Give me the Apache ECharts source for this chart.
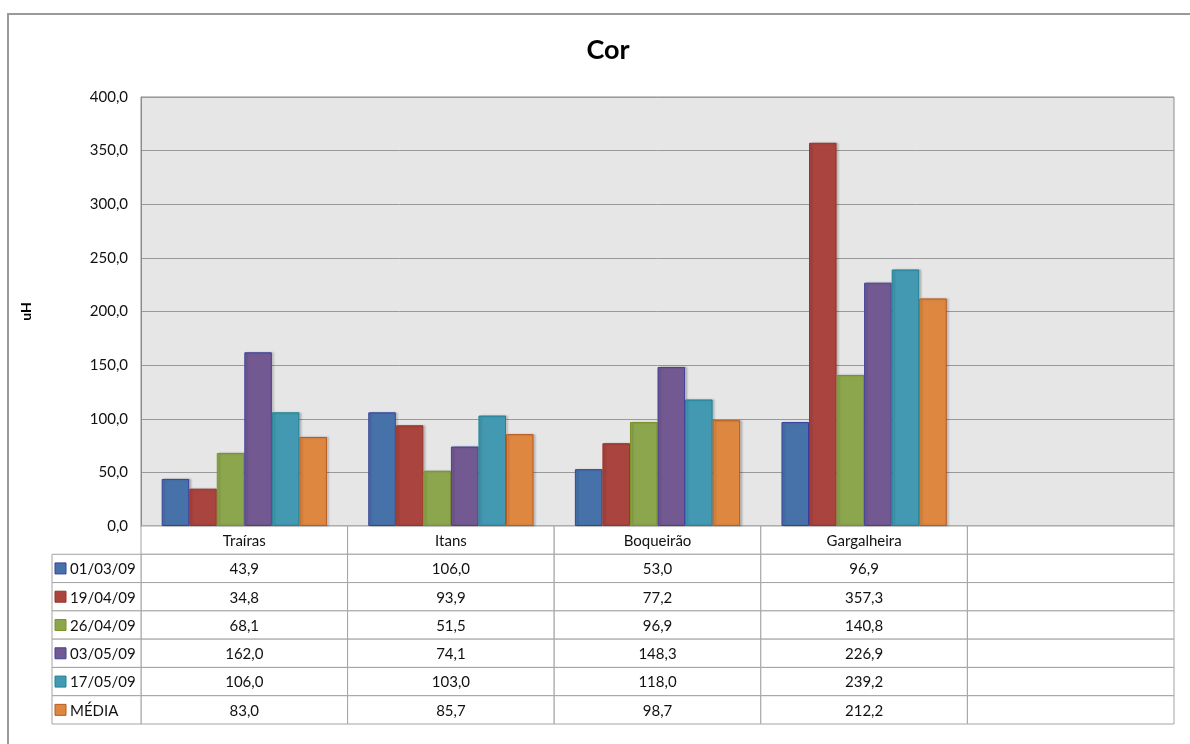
<!DOCTYPE html>
<html>
<head>
<meta charset="utf-8">
<script src="https://cdn.jsdelivr.net/npm/echarts@6/dist/echarts.min.js"></script>
<style>
  html, body { margin: 0; padding: 0; background: #ffffff; }
  #chart { width: 1190px; height: 744px; }
</style>
</head>
<body>
<div id="chart"></div>
<script>
// Sampling sites (last column of the data table is left blank)
const categories = ['Traíras', 'Itans', 'Boqueirão', 'Gargalheira', ''];

// Sampling dates and the mean
const seriesNames = ['01/03/09', '19/04/09', '26/04/09', '03/05/09', '17/05/09', 'MÉDIA'];

// Colour readings (uH) per site
const cor010309 = [43.9, 106.0, 53.0, 96.9, null];
const cor190409 = [34.8, 93.9, 77.2, 357.3, null];
const cor260409 = [68.1, 51.5, 96.9, 140.8, null];
const cor030509 = [162.0, 74.1, 148.3, 226.9, null];
const cor170509 = [106.0, 103.0, 118.0, 239.2, null];
const corMedia  = [83.0, 85.7, 98.7, 212.2, null];

const seriesValues = [cor010309, cor190409, cor260409, cor030509, cor170509, corMedia];

// Value axis scale
const yMin = 0;
const yMax = 400;
const yStep = 50;

// Fill and outline colours of each series
const fillColors   = ['#4672A9', '#A9443F', '#8BA64D', '#725991', '#4399B1', '#DD8741'];
const borderColors = ['#3B3E9E', '#9A3322', '#7D9128', '#41409E', '#1D8497', '#B95A1E'];

const FONT = 'Lato, "Noto Sans", sans-serif';
const LINE = '#A3A3A3';
const LEGEND_COL_W = 89;
const TEXT_SIZE = 15;

const fmt = v => (v === null || v === undefined) ? '' : v.toFixed(1).replace('.', ',');

// Table rows: header with site names, then one row per series
const tableRows = ['header'].concat(seriesNames);
const tableCells = [];
tableRows.forEach((_, r) => {
  categories.forEach((__, c) => tableCells.push([c, r]));
});

function renderCell(params, api) {
  const col = api.value(0);
  const row = api.value(1);
  const center = api.coord([col, row]);
  const size = api.size([1, 1]);
  const x = center[0] - size[0] / 2;
  const y = center[1] - size[1] / 2;
  const text = row === 0 ? categories[col] : fmt(seriesValues[row - 1][col]);
  const children = [
    {
      type: 'rect',
      shape: { x: x, y: y, width: size[0], height: size[1] },
      style: { fill: '#ffffff', stroke: LINE, lineWidth: 1 }
    },
    {
      type: 'text',
      style: {
        x: center[0], y: center[1] + 1, text: text,
        align: 'center', verticalAlign: 'middle',
        fill: '#111111', font: TEXT_SIZE + 'px ' + FONT
      }
    }
  ];
  if (col === 0 && row > 0) {
    const s = row - 1;
    const lx = x - LEGEND_COL_W;
    children.push(
      {
        type: 'rect',
        shape: { x: lx, y: y, width: LEGEND_COL_W, height: size[1] },
        style: { fill: '#ffffff', stroke: LINE, lineWidth: 1 }
      },
      {
        type: 'rect',
        shape: { x: lx + 3, y: center[1] - 5.5, width: 11, height: 11 },
        style: { fill: fillColors[s], stroke: borderColors[s], lineWidth: 1 }
      },
      {
        type: 'text',
        style: {
          x: lx + 18, y: center[1] + 1, text: seriesNames[s],
          align: 'left', verticalAlign: 'middle',
          fill: '#111111', font: TEXT_SIZE + 'px ' + FONT
        }
      }
    );
  }
  return { type: 'group', children: children };
}

const barSeries = seriesNames.map((name, i) => ({
  name: name,
  type: 'bar',
  xAxisIndex: 0,
  yAxisIndex: 0,
  data: seriesValues[i],
  barGap: '0%',
  barCategoryGap: '20%',
  itemStyle: {
    color: fillColors[i],
    borderColor: borderColors[i],
    borderWidth: 1,
    shadowColor: 'rgba(0,0,0,0.18)',
    shadowBlur: 2,
    shadowOffsetX: 2,
    shadowOffsetY: 0
  },
  emphasis: { disabled: true }
}));

const chart = echarts.init(document.getElementById('chart'), null, { renderer: 'canvas' });

chart.setOption({
  backgroundColor: '#ffffff',
  animation: false,
  title: {
    text: 'Cor',
    left: 603,
    textAlign: 'center',
    top: 32,
    textStyle: { fontFamily: FONT, fontSize: 27, fontWeight: 'bold', color: '#000000' }
  },
  graphic: [
    {
      type: 'rect',
      z: -10,
      silent: true,
      shape: { x: 8, y: 14, width: 1400, height: 1000 },
      style: { fill: 'none', stroke: '#9A9A9A', lineWidth: 2 }
    }
  ],
  grid: [
    {
      left: 141, right: 16, top: 97, bottom: 218,
      show: true, backgroundColor: '#E6E6E6', borderColor: '#8C8C8C', borderWidth: 1
    },
    {
      left: 141, right: 16, top: 526, bottom: 20
    }
  ],
  xAxis: [
    {
      gridIndex: 0,
      type: 'category',
      data: categories,
      axisLine: { show: true, lineStyle: { color: '#8C8C8C', width: 1 } },
      axisTick: { show: false },
      axisLabel: { show: false },
      splitLine: { show: false }
    },
    {
      gridIndex: 1,
      type: 'category',
      data: categories,
      show: false
    }
  ],
  yAxis: [
    {
      gridIndex: 0,
      type: 'value',
      min: yMin,
      max: yMax,
      interval: yStep,
      name: 'uH',
      nameLocation: 'middle',
      nameGap: 108,
      nameRotate: 90,
      nameTextStyle: { fontFamily: FONT, fontSize: 14, fontWeight: 'bold', color: '#000000' },
      axisLine: { show: true, lineStyle: { color: '#8C8C8C', width: 1 } },
      axisTick: { show: false },
      axisLabel: {
        margin: 13,
        fontFamily: FONT, fontSize: TEXT_SIZE, color: '#111111',
        formatter: v => fmt(v)
      },
      splitLine: { show: true, lineStyle: { color: '#999999', width: 1 } }
    },
    {
      gridIndex: 1,
      type: 'category',
      data: tableRows,
      inverse: true,
      show: false
    }
  ],
  series: barSeries.concat([
    {
      name: 'tabela',
      type: 'custom',
      xAxisIndex: 1,
      yAxisIndex: 1,
      data: tableCells,
      renderItem: renderCell,
      silent: true,
      clip: false
    }
  ])
});
</script>
</body>
</html>
